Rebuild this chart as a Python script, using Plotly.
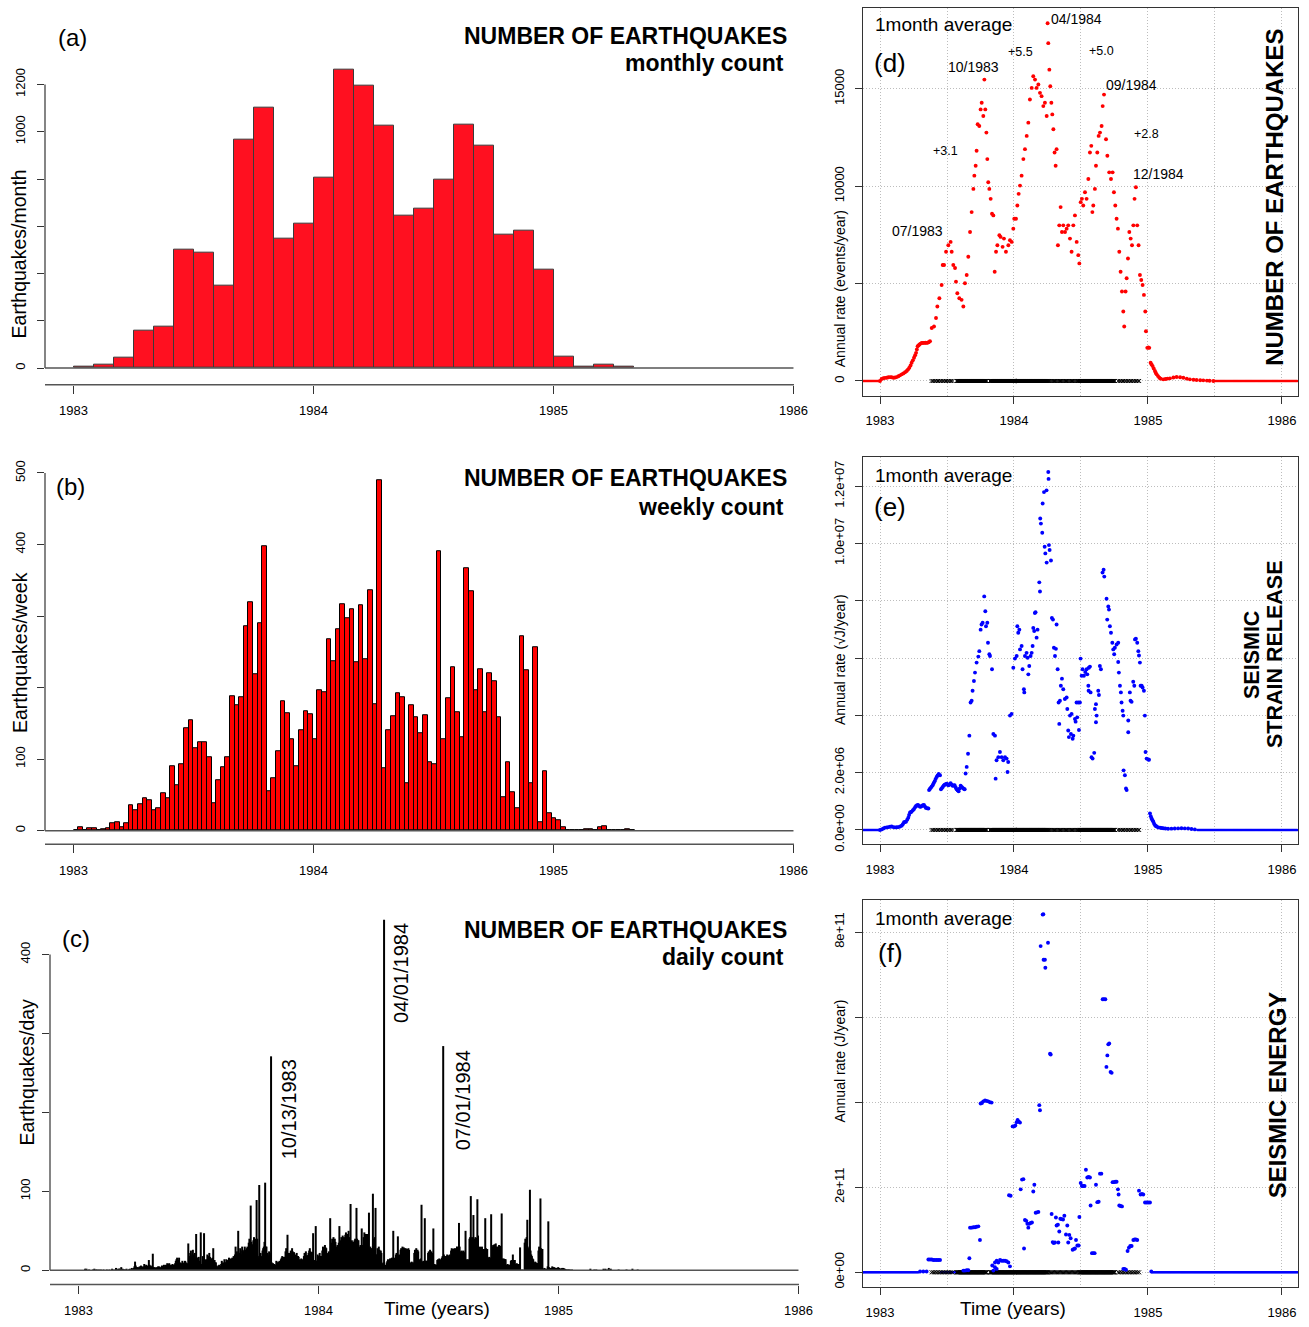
import numpy as np
import plotly.graph_objects as go

# ------------------------------------------------------------------ data
years = [1983, 1984, 1985, 1986]

# (a) monthly counts, Jan 1983 .. Apr 1985
monthly_counts = [8, 13, 46, 158, 176, 500, 487, 350, 966, 1101, 549, 609,
                  807, 1261, 1197, 1024, 646, 676, 798, 1032, 943, 566, 583, 415,
                  48, 4, 13, 4]

# (b) weekly counts, week 0 starting 1 Jan 1983
weekly_counts = [0, 5, 1, 4, 3, 1, 2, 3, 11, 12, 5, 10, 36, 28, 37, 46, 43, 28, 32, 52,
                 45, 90, 64, 93, 143, 154, 115, 123, 123, 103, 38, 71, 88, 102, 188, 175,
                 186, 286, 320, 218, 290, 397, 55, 73, 111, 181, 164, 128, 90, 140, 167,
                 163, 128, 196, 193, 267, 237, 281, 317, 297, 309, 235, 315, 240, 336,
                 177, 490, 87, 141, 160, 192, 186, 67, 175, 159, 136, 161, 96, 93, 391,
                 128, 185, 229, 166, 130, 367, 334, 197, 226, 166, 220, 209, 158, 47, 96,
                 54, 31, 272, 224, 67, 256, 12, 83, 25, 17, 15, 5, 1, 0, 0, 0, 2, 2, 0,
                 5, 6, 0, 1, 0, 1, 2, 1]

# (c) daily counts from 1 Jan 1983 (one row per week)
daily_counts = [
    0, 0, 0, 0, 0, 0, 0,   0, 0, 0, 2, 1, 2, 0,   0, 0, 1, 0, 0, 0, 0,   0, 1, 0, 2, 0, 1, 0,
    1, 0, 0, 1, 0, 0, 1,   0, 0, 0, 1, 0, 0, 0,   0, 1, 0, 0, 0, 1, 0,   0, 0, 2, 0, 1, 0, 0,
    1, 3, 2, 1, 0, 2, 2,   2, 1, 4, 1, 2, 1, 1,   1, 0, 1, 2, 0, 0, 1,   1, 2, 0, 1, 3, 2, 1,
    3, 5, 11, 6, 4, 4, 3,  4, 3, 5, 2, 6, 4, 4,   5, 4, 8, 3, 6, 7, 4,   6, 5, 13, 7, 5, 6, 4,
    5, 21, 4, 3, 4, 3, 3,  4, 3, 5, 4, 5, 3, 4,   3, 6, 4, 5, 7, 4, 3,   7, 6, 9, 8, 6, 9, 7,
    5, 7, 6, 8, 5, 7, 7,   9, 12, 14, 16, 10, 13, 16,   8, 10, 9, 7, 12, 9, 9,
    10, 12, 11, 9, 9, 8, 34,   15, 18, 22, 25, 17, 20, 26,   20, 18, 22, 16, 46, 16, 16,
    14, 17, 12, 10, 48, 8, 6,   18, 14, 47, 12, 10, 14, 8,   20, 16, 18, 22, 17, 15, 15,
    14, 16, 28, 12, 13, 10, 10,   6, 5, 4, 6, 7, 5, 5,   8, 12, 9, 10, 8, 14, 10,
    10, 14, 12, 13, 11, 16, 12,   12, 15, 13, 16, 14, 18, 14,   20, 30, 22, 24, 20, 50, 22,
    22, 28, 25, 20, 30, 26, 24,   24, 30, 26, 22, 28, 30, 26,   35, 40, 30, 82, 36, 33, 30,
    38, 42, 35, 40, 36, 89, 40,   18, 15, 108, 20, 22, 18, 17,   25, 28, 30, 36, 111, 30, 30,
    22, 20, 18, 24, 22, 20, 271,   10, 8, 9, 7, 8, 6, 7,   12, 10, 9, 11, 10, 12, 9,
    14, 16, 18, 15, 17, 14, 17,   24, 28, 22, 45, 20, 22, 20,   22, 25, 20, 28, 24, 22, 23,
    18, 20, 16, 22, 17, 18, 17,   12, 14, 10, 15, 13, 14, 12,   18, 22, 20, 24, 18, 19, 19,
    22, 25, 28, 24, 22, 23, 23,   47, 12, 13, 11, 56, 12, 12,   20, 18, 16, 22, 17, 18, 17,
    25, 30, 28, 24, 32, 29, 28,   22, 20, 21, 24, 19, 66, 21,   35, 40, 38, 42, 36, 40, 36,
    30, 28, 32, 30, 35, 56, 26,   38, 42, 40, 44, 36, 42, 39,   45, 48, 42, 46, 44, 50, 42,
    36, 84, 32, 38, 35, 36, 36,   38, 40, 36, 79, 40, 38, 38,   30, 28, 32, 30, 53, 32, 30,
    42, 48, 44, 46, 45, 46, 44,   28, 73, 26, 30, 28, 27, 28,   97, 40, 38, 42, 79, 20, 20,
    28, 22, 30, 26, 24, 25, 22,   8, 9, 10, 444, 6, 7, 6,   10, 12, 14, 11, 13, 15, 12,
    15, 16, 14, 50, 16, 15, 15,   20, 22, 19, 43, 18, 20, 18,   26, 28, 24, 30, 27, 29, 28,
    25, 28, 26, 27, 26, 28, 26,   9, 10, 8, 11, 10, 9, 10,   22, 26, 24, 28, 25, 26, 24,
    12, 14, 13, 15, 83, 11, 11,   12, 10, 66, 12, 12, 12, 12,   22, 24, 21, 26, 22, 24, 22,
    8, 53, 7, 8, 6, 7, 7,   13, 14, 12, 15, 13, 14, 12,   16, 18, 284, 20, 18, 17, 18,
    18, 20, 16, 19, 18, 20, 17,   25, 28, 26, 27, 26, 28, 25,   28, 27, 30, 28, 26, 60, 30,
    22, 24, 25, 23, 24, 25, 23,   14, 50, 13, 14, 12, 14, 13,   40, 42, 94, 38, 42, 41, 70,
    40, 38, 42, 41, 39, 90, 44,   28, 26, 30, 27, 29, 30, 27,   26, 27, 25, 66, 28, 27, 27,
    16, 15, 17, 16, 15, 71, 16,   30, 32, 31, 33, 30, 34, 30,   28, 30, 29, 32, 30, 31, 29,
    72, 15, 14, 15, 14, 14, 14,   7, 6, 8, 6, 7, 7, 6,   12, 13, 12, 20, 13, 13, 13,
    8, 7, 9, 7, 8, 7, 8,   29, 0, 1, 0, 1, 0, 0,   35, 40, 38, 42, 64, 28, 25,
    30, 102, 25, 20, 18, 15, 14,   10, 9, 11, 10, 9, 9, 9,   25, 30, 28, 91, 28, 27, 27,
    2, 1, 3, 2, 1, 2, 1,   5, 62, 4, 3, 3, 3, 3,   5, 4, 3, 4, 3, 3, 3,   3, 2, 4, 2, 3, 2, 1,
    2, 3, 2, 3, 2, 2, 1,   1, 1, 0, 1, 1, 0, 1,   0, 0, 1, 0, 0, 0, 0,   0, 0, 0, 0, 0, 0, 0,
    0, 0, 0, 0, 0, 0, 0,   0, 0, 0, 0, 0, 0, 0,   0, 0, 2, 0, 0, 0, 0,   0, 1, 0, 0, 1, 0, 0,
    0, 0, 0, 0, 0, 0, 0,   0, 2, 1, 0, 2, 0, 0,   1, 0, 3, 0, 0, 2, 0,   0, 0, 0, 0, 0, 0, 0,
    0, 0, 0, 1, 0, 0, 0,   0, 0, 0, 0, 0, 0, 0,   0, 1, 0, 0, 0, 0, 0,   0, 0, 0, 2, 0, 0, 0,
    0, 0, 0, 0, 1, 0, 0,
]
spike_labels = ["10/13/1983", "04/01/1984", "07/01/1984"]

# (d) 1-month running average of number of events (events/year)
d_time = [1983.000, 1983.012, 1983.025, 1983.037, 1983.050, 1983.062, 1983.075, 1983.087,
          1983.100, 1983.112, 1983.124, 1983.137, 1983.149, 1983.162, 1983.174, 1983.187,
          1983.199, 1983.209, 1983.219, 1983.228, 1983.236, 1983.245, 1983.254, 1983.262,
          1983.269, 1983.275, 1983.281, 1983.288, 1983.294, 1983.303, 1983.311, 1983.320,
          1983.328, 1983.338, 1983.348, 1983.356, 1983.363, 1983.373, 1983.386, 1983.403,
          1983.418, 1983.428, 1983.443,
          1983.460, 1983.468, 1983.478, 1983.493, 1983.510, 1983.527, 1983.535, 1983.547,
          1983.560, 1983.567, 1983.577, 1983.592, 1983.609, 1983.622, 1983.634, 1983.647,
          1983.659, 1983.672, 1983.684, 1983.697, 1983.704, 1983.714, 1983.721, 1983.729,
          1983.741, 1983.751, 1983.759, 1983.771, 1983.779, 1983.786, 1983.794, 1983.801,
          1983.808, 1983.816, 1983.826, 1983.836, 1983.846, 1983.856, 1983.866, 1983.876,
          1983.891, 1983.900, 1983.915, 1983.925, 1983.940, 1983.958, 1983.970, 1983.983,
          1983.995, 1984.002, 1984.015, 1984.025, 1984.035, 1984.045, 1984.057, 1984.070,
          1984.082, 1984.095, 1984.107, 1984.119, 1984.132, 1984.144, 1984.157, 1984.169,
          1984.182, 1984.194, 1984.206, 1984.219, 1984.231, 1984.244, 1984.251, 1984.256,
          1984.264, 1984.271, 1984.279, 1984.286, 1984.294, 1984.303, 1984.311, 1984.318,
          1984.328, 1984.338, 1984.348, 1984.358, 1984.368, 1984.381, 1984.393, 1984.405,
          1984.418, 1984.430, 1984.443, 1984.455, 1984.468, 1984.480, 1984.488, 1984.498,
          1984.507, 1984.517, 1984.530, 1984.542, 1984.555, 1984.567, 1984.577, 1984.585,
          1984.592, 1984.604, 1984.612, 1984.622, 1984.632, 1984.642, 1984.654, 1984.662,
          1984.672, 1984.687, 1984.697, 1984.711, 1984.724, 1984.736, 1984.746, 1984.756,
          1984.766, 1984.776, 1984.786, 1984.796, 1984.806, 1984.816, 1984.823, 1984.833,
          1984.841, 1984.851, 1984.861, 1984.871, 1984.881, 1984.891, 1984.900, 1984.910,
          1984.920, 1984.930, 1984.940, 1984.950, 1984.960, 1984.970, 1984.980, 1984.985,
          1984.995, 1985.003, 1985.010, 1985.020, 1985.027, 1985.035, 1985.043, 1985.052,
          1985.058, 1985.065, 1985.075, 1985.085, 1985.095, 1985.114, 1985.130, 1985.145,
          1985.164, 1985.190, 1985.214, 1985.240, 1985.264, 1985.290, 1985.313, 1985.340,
          1985.363, 1985.390, 1985.413, 1985.440, 1985.460, 1985.488]
d_rate = [0, 100, 140, 160, 170, 190, 200, 190,
          170, 180, 200, 240, 290, 340, 390, 450,
          510, 590, 680, 800, 935, 1060, 1190, 1320,
          1445, 1620, 1785, 1830, 1870, 1920, 1955, 1955,
          1955, 1960, 1955, 1970, 1990, 2040, 2720, 2800,
          3230, 3825, 4250,
          4930, 5950, 5950, 6630, 6970, 7140, 6630, 5950,
          5800, 5100, 4500, 4250, 4165, 3825, 5015, 5440,
          6375, 7650, 8670, 9860, 10540, 11050, 11815, 13175,
          13090, 13940, 14280, 13600, 15470, 13940, 12750, 11390,
          10200, 9860, 9350, 8585, 8500, 5610, 6630, 6970,
          7480, 7395, 6885, 7310, 6630, 6970, 7225, 7140,
          7820, 8330, 8330, 9010, 9605, 10030, 10540, 11390,
          11900, 12580, 13260, 14450, 15045, 15640, 15470, 15045,
          15215, 14790, 14620, 14110, 14280, 13600, 18360, 17340,
          15980, 15130, 14280, 13685, 12920, 11730, 11050, 11900,
          6970, 7990, 8925, 7650, 7990, 7650, 7820, 7990,
          7310, 6630, 7990, 8500, 7140, 6460, 6035, 9180,
          9350, 9010, 9690, 9350, 10370, 11730, 12070, 8670,
          9010, 9860, 11050, 11730, 12580, 12750, 13090, 14110,
          14700, 12410, 11560, 10710, 10370, 10710, 9690, 9010,
          8330, 7820, 6630, 5610, 4590, 3570, 2800, 4590,
          5270, 6290, 7650, 7310, 6970, 7990, 9350, 9945,
          7990, 6970, 5440, 5185, 4930, 4420, 3570, 2550,
          1700, 1720, 1700, 935, 850, 765, 640, 510,
          420, 340, 250, 170, 120, 85, 100, 120,
          136, 180, 204, 190, 170, 120, 85, 60,
          50, 40, 34, 20, 10, 0]
d_zero_spans = [(1982.875, 1983.0), (1985.49, 1986.12)]
d_notes = [("07/1983", 1983.28, 7700), ("10/1983", 1983.70, 16100), ("+3.1", 1983.49, 11800),
           ("+5.5", 1984.05, 16900), ("04/1984", 1984.47, 18600), ("+5.0", 1984.65, 16950),
           ("09/1984", 1984.88, 15200), ("+2.8", 1984.99, 12700), ("12/1984", 1985.08, 10600)]

# (e) 1-month running average of strain release (sqrt(J)/year), in units of 1e6
e_time = [1983.000, 1983.012, 1983.025, 1983.037, 1983.050, 1983.062, 1983.075, 1983.087,
          1983.100, 1983.112, 1983.125, 1983.137, 1983.150, 1983.162, 1983.170, 1983.179,
          1983.187, 1983.194, 1983.203, 1983.211, 1983.217, 1983.224, 1983.230, 1983.236,
          1983.245, 1983.254, 1983.262, 1983.269, 1983.277, 1983.284, 1983.290, 1983.299,
          1983.306, 1983.313, 1983.320, 1983.328, 1983.335, 1983.343, 1983.352, 1983.361,
          1983.366, 1983.372, 1983.378, 1983.385, 1983.393, 1983.400, 1983.408, 1983.415,
          1983.423, 1983.430, 1983.438, 1983.448, 1983.455, 1983.462, 1983.468, 1983.476,
          1983.483, 1983.490, 1983.498, 1983.505, 1983.512, 1983.520, 1983.527, 1983.535,
          1983.542, 1983.550, 1983.557, 1983.565, 1983.572, 1983.580, 1983.587, 1983.595,
          1983.602, 1983.610, 1983.617, 1983.625, 1983.632,
          1983.639, 1983.647, 1983.657, 1983.667, 1983.676, 1983.684, 1983.691,
          1983.701, 1983.709, 1983.721, 1983.734, 1983.741, 1983.751, 1983.758, 1983.766,
          1983.778, 1983.786, 1983.791, 1983.801, 1983.806, 1983.816, 1983.821, 1983.836,
          1983.846, 1983.858, 1983.863, 1983.870, 1983.883, 1983.895, 1983.908, 1983.920,
          1983.933, 1983.945, 1983.952, 1983.957, 1983.970, 1983.982, 1983.995, 1984.007,
          1984.020, 1984.025, 1984.032, 1984.040, 1984.045, 1984.057, 1984.064, 1984.074,
          1984.077, 1984.082, 1984.094, 1984.102, 1984.107, 1984.114, 1984.124, 1984.132,
          1984.139, 1984.144, 1984.151, 1984.156, 1984.161, 1984.169, 1984.176, 1984.189,
          1984.194, 1984.196, 1984.201, 1984.211, 1984.214, 1984.224, 1984.229, 1984.234,
          1984.243, 1984.244, 1984.256, 1984.258, 1984.261, 1984.266, 1984.276, 1984.283,
          1984.291, 1984.298, 1984.306, 1984.313, 1984.318, 1984.326, 1984.333, 1984.338,
          1984.343, 1984.350, 1984.358, 1984.368, 1984.380, 1984.393, 1984.398, 1984.405,
          1984.410, 1984.418, 1984.425, 1984.430, 1984.438, 1984.443, 1984.455, 1984.460,
          1984.467, 1984.472, 1984.480, 1984.485, 1984.492, 1984.497, 1984.505, 1984.512,
          1984.522, 1984.532, 1984.542, 1984.547, 1984.555, 1984.557, 1984.559, 1984.567,
          1984.572, 1984.579, 1984.587, 1984.599, 1984.604, 1984.612, 1984.617, 1984.612,
          1984.629, 1984.634, 1984.641, 1984.649, 1984.661, 1984.669, 1984.674, 1984.691,
          1984.696, 1984.704, 1984.709, 1984.716, 1984.724, 1984.734, 1984.741, 1984.748,
          1984.753, 1984.766, 1984.778, 1984.778, 1984.783, 1984.791, 1984.798, 1984.803,
          1984.811, 1984.816, 1984.818, 1984.828, 1984.836, 1984.841, 1984.853, 1984.853,
          1984.865, 1984.870, 1984.878, 1984.890, 1984.898, 1984.903, 1984.910, 1984.920,
          1984.928, 1984.933, 1984.940, 1984.945, 1984.953, 1984.960, 1984.970, 1984.977,
          1984.982, 1984.990, 1985.002, 1985.008, 1985.015, 1985.021, 1985.027, 1985.034,
          1985.040, 1985.046, 1985.052, 1985.058, 1985.065, 1985.077, 1985.090, 1985.102,
          1985.114, 1985.130, 1985.150, 1985.175, 1985.200, 1985.225, 1985.250, 1985.275,
          1985.300, 1985.325, 1985.350]
e_rate_1e6 = [0.00, 0.02, 0.05, 0.08, 0.09, 0.10, 0.11, 0.12,
              0.10, 0.09, 0.095, 0.10, 0.12, 0.15, 0.20, 0.27,
              0.28, 0.29, 0.36, 0.43, 0.52, 0.61, 0.62, 0.64,
              0.69, 0.73, 0.79, 0.84, 0.86, 0.87, 0.84, 0.81,
              0.82, 0.84, 0.86, 0.87, 0.82, 0.77, 0.76, 0.75,
              1.39, 1.43, 1.47, 1.51, 1.56, 1.63, 1.70, 1.78,
              1.85, 1.90, 1.95, 1.91, 1.42, 1.46, 1.50, 1.55,
              1.58, 1.60, 1.61, 1.58, 1.56, 1.60, 1.63, 1.58,
              1.54, 1.55, 1.56, 1.48, 1.42, 1.38, 1.35, 1.45,
              1.54, 1.50, 1.47, 1.44, 1.42,
              1.97, 2.20, 2.66, 3.29, 4.45, 4.51, 4.86,
              5.20, 5.49, 5.84, 6.05, 6.24, 6.99, 7.17, 7.23,
              8.15, 7.63, 7.11, 7.23, 6.53, 6.13, 6.07, 5.61,
              3.35, 3.29, 1.79, 2.43, 2.54, 2.72, 2.54, 2.43,
              2.54, 2.49, 2.02, 2.37, 3.99, 4.05, 5.66, 5.98,
              6.07, 7.11, 6.88, 6.99, 6.30, 6.42, 5.61, 4.91,
              4.80, 6.07, 6.18, 6.01, 5.43, 5.72, 6.07, 6.18,
              6.42, 7.05, 6.94, 7.57, 7.60, 6.71, 6.99, 8.64,
              8.32, 10.87, 10.69, 10.37, 11.39, 11.79, 9.88, 9.65,
              11.85, 9.33, 12.49, 12.25, 9.94, 9.77, 9.40, 7.40,
              7.34, 6.36, 6.07, 6.32, 7.17, 5.61, 4.45, 3.70,
              4.51, 5.03, 5.28, 4.91, 4.57, 4.62, 4.22, 3.47,
              3.24, 3.99, 3.35, 4.05, 3.18, 3.29, 3.87, 3.78,
              4.45, 3.93, 4.45, 3.49, 4.45, 5.98, 5.38, 5.61,
              5.38, 5.51, 5.61, 5.43, 5.03, 4.86, 5.66, 5.70,
              4.80, 2.54, 2.49, 2.69, 4.22, 4.39, 3.99, 3.76,
              4.86, 4.71, 5.72, 5.61, 8.98, 9.08, 8.84, 8.07,
              7.34, 7.80, 7.69, 7.11, 6.88, 6.53, 6.30, 6.13,
              6.36, 6.47, 6.53, 5.86, 5.49, 5.03, 4.80, 4.45,
              4.16, 3.99, 2.08, 1.91, 1.45, 1.39, 3.82, 3.41,
              4.80, 4.51, 4.47, 5.17, 5.03, 6.65, 6.67, 6.53,
              6.24, 6.09, 5.84, 5.03, 5.03, 4.97, 4.86, 3.99,
              2.72, 2.49, 2.46, 2.45, 0.58, 0.48, 0.40, 0.34,
              0.29, 0.22, 0.17, 0.14, 0.12, 0.09, 0.08, 0.07,
              0.06, 0.05, 0.04, 0.045, 0.05, 0.055, 0.06, 0.055,
              0.05, 0.035, 0.02]
e_zero_spans = [(1982.875, 1983.0), (1985.37, 1986.12)]

# (f) 1-month running average of seismic energy (J/year), in units of 1e11
f_time = [1983.299, 1983.323, 1983.348, 1983.361, 1983.373, 1983.386, 1983.398, 1983.410,
          1983.423, 1983.435, 1983.448, 1983.622, 1983.634, 1983.647, 1983.659, 1983.667,
          1983.672, 1983.684, 1983.697, 1983.709, 1983.721, 1983.734, 1983.746, 1983.751,
          1983.761, 1983.771, 1983.784, 1983.796, 1983.808, 1983.821, 1983.833, 1983.838,
          1983.846, 1983.858, 1983.871, 1983.883, 1983.896, 1983.908, 1983.920, 1983.933,
          1983.945, 1983.958, 1983.970, 1983.858, 1983.871, 1983.963, 1983.975, 1983.990,
          1984.000, 1984.010, 1984.020, 1984.027, 1984.037, 1984.045, 1984.050, 1984.060,
          1984.070, 1984.075, 1984.082, 1984.092, 1984.100, 1984.107, 1984.114, 1984.124,
          1984.134, 1984.144, 1984.152, 1984.162, 1984.172, 1984.182, 1984.189, 1984.194,
          1984.199, 1984.214, 1984.219, 1984.221, 1984.231, 1984.234, 1984.254, 1984.269,
          1984.274, 1984.281, 1984.289, 1984.296, 1984.306, 1984.313, 1984.318, 1984.328,
          1984.331, 1984.338, 1984.346, 1984.356, 1984.366, 1984.376, 1984.388, 1984.398,
          1984.405, 1984.413, 1984.423, 1984.438, 1984.448, 1984.455, 1984.463, 1984.473,
          1984.483, 1984.488, 1984.498, 1984.507, 1984.517, 1984.527, 1984.537, 1984.547,
          1984.557, 1984.567, 1984.572, 1984.582, 1984.592, 1984.602, 1984.612, 1984.622,
          1984.632, 1984.642, 1984.652, 1984.662, 1984.672, 1984.682, 1984.690, 1984.697,
          1984.704, 1984.711, 1984.721, 1984.729, 1984.736, 1984.746, 1984.756, 1984.766,
          1984.776, 1984.781, 1984.786, 1984.796, 1984.806, 1984.816, 1984.826, 1984.836,
          1984.848, 1984.858, 1984.868, 1984.878, 1984.891, 1984.900, 1984.910, 1984.920,
          1984.933, 1984.945, 1984.955, 1984.965, 1984.978, 1984.990, 1985.002, 1985.015,
          1985.025]
f_rate_1e11 = [0.02, 0.02, 0.02, 0.30, 0.30, 0.30, 0.29, 0.29,
               0.29, 0.29, 0.29, 0.04, 0.04, 0.05, 0.05, 0.33,
               1.05, 1.05, 1.06, 1.06, 1.07, 1.08, 0.76, 3.97,
               3.98, 4.02, 4.04, 4.03, 4.02, 4.00, 3.99, 0.16,
               0.04, 0.23, 0.27, 0.23, 0.29, 0.27, 0.27, 0.27,
               0.26, 0.23, 0.14, 0.12, 0.08, 1.81, 1.80, 3.43,
               3.43, 3.45, 3.53, 3.58, 3.54, 3.52, 1.95, 2.18,
               2.19, 0.56, 1.23, 1.21, 1.14, 1.05, 1.14, 1.16,
               1.17, 1.90, 2.06, 1.40, 1.41, 1.42, 3.93, 3.81,
               7.67, 8.41, 8.42, 7.35, 7.35, 7.16, 7.75, 5.14,
               5.12, 1.37, 0.71, 0.69, 0.70, 1.29, 1.10, 1.12,
               0.70, 0.96, 1.26, 1.25, 1.24, 1.33, 0.89, 1.10,
               0.70, 0.88, 0.80, 0.53, 0.55, 0.56, 0.76, 0.63,
               0.63, 1.30, 2.10, 2.03, 2.03, 2.03, 2.41, 2.23,
               2.24, 2.23, 1.57, 0.45, 0.45, 0.45, 2.06, 1.65,
               1.66, 2.32, 2.32, 6.42, 6.42, 6.42, 4.83, 5.10,
               5.36, 5.38, 4.71, 4.69, 2.12, 2.12, 2.13, 2.13,
               1.95, 1.83, 1.57, 1.56, 1.55, 0.08, 0.08, 0.06,
               0.50, 0.58, 0.62, 0.62, 0.76, 0.77, 0.77, 0.76,
               1.92, 1.83, 1.84, 1.83, 1.64, 1.64, 1.64, 1.64,
               0.02]
f_zero_spans = [(1982.875, 1983.29), (1983.455, 1983.615), (1985.03, 1986.12)]

# times flagged with "x" along the zero line (start, end, spacing)
x_mark_spans = [(1983.385, 1983.545, 0.012), (1983.572, 1983.796, 0.004),
                (1983.821, 1984.256, 0.004), (1984.262, 1984.490, 0.009),
                (1984.492, 1984.753, 0.004), (1984.778, 1984.940, 0.012)]

# ------------------------------------------------------------------ layout helpers
W, H = 1309, 1327
FONT = "Liberation Sans, Arial, Helvetica, sans-serif"
def fx(px): return px / W
def fy(py): return 1 - py / H

fig = go.Figure()

# ---------- (a) monthly histogram
m_left = 1983 + np.arange(len(monthly_counts)) / 12.0
fig.add_trace(go.Bar(x=m_left + 1 / 24.0, y=monthly_counts, width=1 / 12.0,
                     marker=dict(color="#FF1020", line=dict(color="#3a3a3a", width=1)),
                     xaxis="x", yaxis="y", showlegend=False))

# ---------- (b) weekly histogram
wk = 7 / 365.25
w_left = 1983 + np.arange(len(weekly_counts)) * wk
fig.add_trace(go.Bar(x=w_left + wk / 2, y=weekly_counts, width=wk,
                     marker=dict(color="#FF0000", line=dict(color="black", width=1)),
                     xaxis="x2", yaxis="y2", showlegend=False))

# ---------- (c) daily counts as vertical lines
dx = 1983 + np.arange(len(daily_counts)) / 365.25
lx, ly = [], []
for xv, yv in zip(dx, daily_counts):
    if yv > 0:
        lx += [xv, xv, None]
        ly += [0, yv, None]
fig.add_trace(go.Scatter(x=lx, y=ly, mode="lines", line=dict(color="black", width=2),
                         xaxis="x3", yaxis="y3", showlegend=False, hoverinfo="skip"))

# ---------- right panels
def zero_times(spans):
    return np.concatenate([np.arange(a, b, 0.0075) for a, b in spans])

xm = np.concatenate([np.arange(a, b, s) for a, b, s in x_mark_spans])

for t, v, spans, color, ax in [
        (d_time, np.array(d_rate, float), d_zero_spans, "#FF0000", "4"),
        (e_time, np.array(e_rate_1e6) * 1e6, e_zero_spans, "#0000FF", "5"),
        (f_time, np.array(f_rate_1e11) * 1e11, f_zero_spans, "#0000FF", "6")]:
    zt = zero_times(spans)
    fig.add_trace(go.Scatter(x=zt, y=np.zeros_like(zt), mode="markers",
                             marker=dict(color=color, size=2.6), xaxis="x" + ax, yaxis="y" + ax,
                             showlegend=False, hoverinfo="skip"))
    fig.add_trace(go.Scatter(x=xm, y=np.zeros_like(xm), mode="markers",
                             marker=dict(symbol="x-thin", size=4, line=dict(color="black", width=1)),
                             xaxis="x" + ax, yaxis="y" + ax, showlegend=False, hoverinfo="skip"))
    fig.add_trace(go.Scatter(x=t, y=v, mode="markers", marker=dict(color=color, size=3.9),
                             xaxis="x" + ax, yaxis="y" + ax, showlegend=False))

# ------------------------------------------------------------------ axes
tickfont = dict(family=FONT, size=13, color="black")
L_RANGE = [1982.881, 1986.123]
R_RANGE = [1982.873, 1986.12]

def left_x(px0, px1, anchor):
    return dict(domain=[fx(px0), fx(px1)], range=L_RANGE, anchor=anchor, tickmode="array",
                tickvals=years, ticktext=[str(y) for y in years], ticks="outside", ticklen=8,
                tickwidth=1, tickcolor="#333", showgrid=False, zeroline=False, showline=False,
                tickfont=tickfont, ticklabelstandoff=6, fixedrange=True)

def left_y(py0, py1, rng, vals, texts, anchor):
    return dict(domain=[fy(py1), fy(py0)], range=rng, anchor=anchor, tickmode="array",
                tickvals=vals, ticktext=texts, ticks="outside", ticklen=7, tickwidth=1,
                tickcolor="#333", showgrid=False, zeroline=False, showline=False,
                tickangle=-90, tickfont=tickfont, ticklabelstandoff=7)

grid = dict(showgrid=True, gridcolor="#BDBDBD", griddash="1px,2px", gridwidth=1)

def right_x(py1, anchor, texts):
    return dict(domain=[fx(863), fx(1298)], range=R_RANGE, anchor=anchor, tickmode="array",
                tickvals=years, ticktext=texts, ticks="outside", ticklen=7, tickwidth=1,
                tickcolor="#333", zeroline=False, showline=True, mirror=True,
                linecolor="#333", linewidth=1.3, tickfont=dict(family=FONT, size=13, color="black"),
                ticklabelstandoff=6,
                minor=dict(tickvals=[1983.5, 1984.5, 1985.5], ticks="", **grid), **grid)

def right_y(py0, py1, rng, vals, texts, anchor):
    return dict(domain=[fy(py1), fy(py0)], range=rng, anchor=anchor, tickmode="array",
                tickvals=vals, ticktext=texts, ticks="outside", ticklen=7, tickwidth=1,
                tickcolor="#333", zeroline=False, showline=True, mirror=True,
                linecolor="#333", linewidth=1.3, tickangle=-90,
                tickfont=dict(family=FONT, size=13, color="black"), ticklabelstandoff=6, **grid)

yr_txt = [str(y) for y in years]
layout = dict(
    width=W, height=H, margin=dict(l=0, r=0, t=0, b=0),
    paper_bgcolor="white", plot_bgcolor="white", showlegend=False, bargap=0,
    font=dict(family=FONT, color="black"),
    xaxis=left_x(45, 823, "y"),
    yaxis=left_y(56, 387, [-70.3, 1322], [0, 200, 400, 600, 800, 1000, 1200],
                 ["0", "", "", "", "", "1000", "1200"], "x"),
    xaxis2=left_x(45, 823, "y2"),
    yaxis2=left_y(460, 849.3, [-18.9, 522], [0, 100, 200, 300, 400, 500],
                  ["0", "100", "", "", "400", "500"], "x2"),
    xaxis3=left_x(50, 828, "y3"),
    yaxis3=left_y(920, 1292.3, [-18, 450.7], [0, 100, 200, 300, 400],
                  ["0", "100", "", "", "400"], "x3"),
    xaxis4=right_x(398, "y4", yr_txt),
    yaxis4=right_y(8, 398, [-750, 19148], [0, 5000, 10000, 15000],
                   ["0", "", "10000", "15000"], "x4"),
    xaxis5=right_x(849, "y5", yr_txt),
    yaxis5=right_y(460, 849, [-4.86e5, 1.3006e7], [0, 2e6, 4e6, 6e6, 8e6, 1e7, 1.2e7],
                   ["0.0e+00", "2.0e+06", "", "", "", "1.0e+07", "1.2e+07"], "x5"),
    xaxis6=right_x(1295, "y6", ["1983", "", "1985", "1986"]),
    yaxis6=right_y(905.7, 1295, [-3.5e10, 8.748e11], [0, 2e11, 4e11, 6e11, 8e11],
                   ["0e+00", "2e+11", "", "", "8e+11"], "x6"),
)
fig.update_layout(**layout)

# ------------------------------------------------------------------ shapes (left axes lines)
shapes = []
for (ylabel, xpx, ytop, axline_py, ref) in [("y", 45, 1200, 387, ""), ("y2", 45, 500, 849.3, "2"),
                                            ("y3", 50, 400, 1292.3, "3")]:
    shapes.append(dict(type="line", xref="paper", yref=ylabel, x0=fx(xpx), x1=fx(xpx), y0=0, y1=ytop,
                       line=dict(color="#333", width=1.2)))
    shapes.append(dict(type="line", xref="x" + ref, yref=ylabel, x0=L_RANGE[0], x1=1986, y0=0, y1=0,
                       line=dict(color="#555", width=1.5)))
    shapes.append(dict(type="line", xref="paper", yref="paper", x0=fx(xpx), x1=fx(xpx + 749),
                       y0=fy(axline_py), y1=fy(axline_py), line=dict(color="#555", width=1.5)))
fig.update_layout(shapes=shapes)

# ------------------------------------------------------------------ annotations
anns = []
def ann(text, x, y, size, xanchor="center", angle=0, yanchor="middle", **kw):
    anns.append(dict(text=text, x=fx(x), y=fy(y), xref="paper", yref="paper", showarrow=False,
                     xanchor=xanchor, yanchor=yanchor, textangle=angle,
                     font=dict(family=FONT, size=size, color="black"), **kw))

# left titles
for y1, y2, sub in [(36.5, 63.5, "monthly count"), (481, 510, "weekly count"), (936, 963, "daily count")]:
    ann("<b>NUMBER OF EARTHQUAKES</b>", 789, y1, 23, xanchor="right")
    ann("<b>%s</b>" % sub, 786, y2, 23, xanchor="right")
ann("(a)", 72, 38, 24)
ann("(b)", 70, 489, 24)
ann("(c)", 76, 944, 24)
ann("Earthquakes/month", 19, 256, 19.5, angle=-90)
ann("Earthquakes/week", 20, 657, 19.5, angle=-90)
ann("Earthquakes/day", 27, 1079, 19.5, angle=-90)
ann("Time (years)", 437, 1316, 19)

# spike labels in (c)
for txt, x, y in zip(spike_labels, [289, 401, 463], [1116, 979, 1107]):
    ann(txt, x, y, 20, angle=-90)

# right panels
for y_avg, lab, ylab, ylab_y in [(25, "(d)", "Annual rate (events/year)", 291),
                                 (478, "(e)", "Annual rate (\u221aJ/year)", 664),
                                 (924, "(f)", "Annual rate (J/year)", 1068)]:
    ann("1month average", 873, y_avg, 19, xanchor="left")
    ann(lab, 890, {"(d)": 63, "(e)": 510, "(f)": 959}[lab], 26)
    ann(ylab, 840, ylab_y, 14, angle=-90)

ann("<b>NUMBER OF EARTHQUAKES</b>", 1275, 199, 24, angle=-90)
ann("<b>SEISMIC</b>", 1252, 659, 21.5, angle=-90)
ann("<b>STRAIN RELEASE</b>", 1275, 658, 21.5, angle=-90)
ann("<b>SEISMIC ENERGY</b>", 1277, 1102, 24, angle=-90)
ann("Time (years)", 1013, 1316, 19)

fig.update_layout(annotations=anns)

# notes on panel (d) positioned in data coordinates
for txt, xv, yv in d_notes:
    size = 12.5 if txt.startswith("+") else 14
    fig.add_annotation(text=txt, x=xv, y=yv, xref="x4", yref="y4", showarrow=False,
                       font=dict(family=FONT, size=size, color="black"))

fig.write_html("out.html")
